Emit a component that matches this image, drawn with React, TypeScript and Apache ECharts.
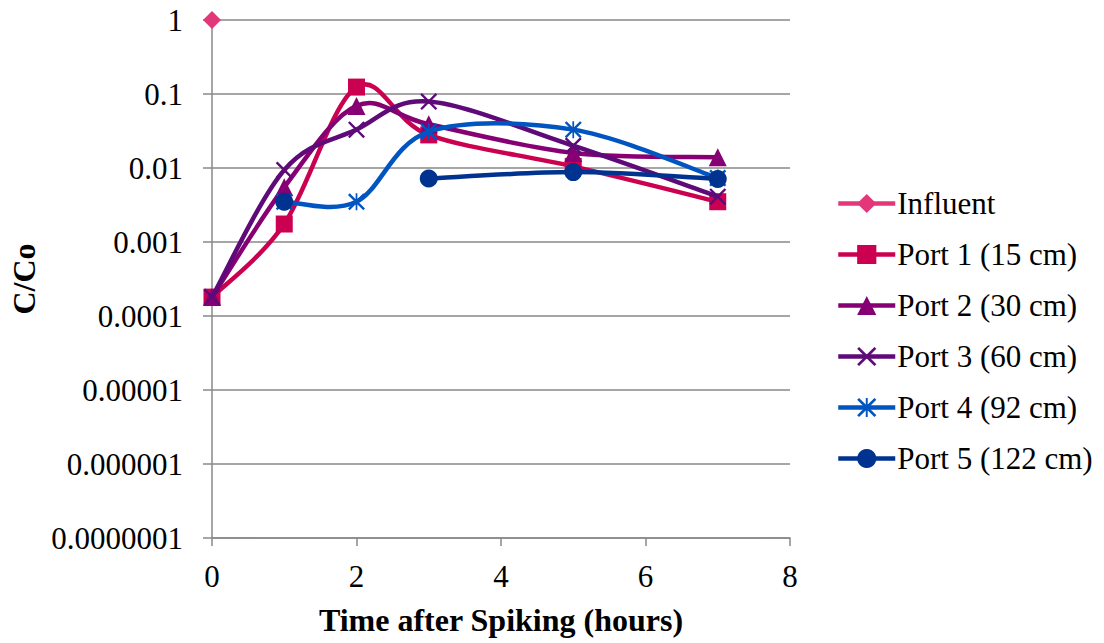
import React, { useEffect, useRef } from "react";
import * as echarts from "echarts";

const xInfluent = [0];
const yInfluent = [1];
const xPort1 = [0, 1, 2, 3, 5, 7];
const yPort1 = [0.00018, 0.00175, 0.124, 0.028, 0.0105, 0.0035];
const xPort2 = [0, 1, 2, 3, 5, 7];
const yPort2 = [0.00018, 0.0055, 0.069, 0.039, 0.016, 0.014];
const xPort3 = [0, 1, 2, 3, 5, 7];
const yPort3 = [0.00018, 0.0094, 0.033, 0.079, 0.02, 0.0041];
const xPort4 = [1, 2, 3, 5, 7];
const yPort4 = [0.0035, 0.0035, 0.031, 0.033, 0.0073];
const xPort5 = [1, 2, 3, 5, 7];
const yPort5 = [0.0035, null, 0.0072, 0.0088, 0.0071];

const seriesNames = [
  "Influent",
  "Port 1 (15 cm)",
  "Port 2 (30 cm)",
  "Port 3 (60 cm)",
  "Port 4 (92 cm)",
  "Port 5 (122 cm)",
];
const colors = ["#E2387A", "#CC0050", "#860073", "#5E0A78", "#0055C0", "#00338F"];

const X_PATH =
  "path://M0,2 L2,0 L10,8 L18,0 L20,2 L12,10 L20,18 L18,20 L10,12 L2,20 L0,18 L8,10 Z";
const STAR_PATH =
  "path://M0,2 L2,0 L10,8 L18,0 L20,2 L12,10 L20,18 L18,20 L10,12 L2,20 L0,18 L8,10 Z M9,0 L11,0 L11,20 L9,20 Z";

const pairs = (xs: number[], ys: (number | null)[]) =>
  xs.map((x, i) => [x, ys[i] === null ? "-" : ys[i]]);

function smoothPath(pts: (number[] | null)[]): string {
  const runs: number[][][] = [];
  let cur: number[][] = [];
  pts.forEach((p) => {
    if (p) cur.push(p);
    else {
      if (cur.length) runs.push(cur);
      cur = [];
    }
  });
  if (cur.length) runs.push(cur);
  let d = "";
  runs.forEach((run) => {
    if (run.length < 2) return;
    d += `M${run[0][0]},${run[0][1]}`;
    for (let i = 0; i < run.length - 1; i++) {
      const p0 = run[i - 1] || run[i];
      const p1 = run[i];
      const p2 = run[i + 1];
      const p3 = run[i + 2] || run[i + 1];
      const c1x = p1[0] + (p2[0] - p0[0]) / 6;
      const c1y = p1[1] + (p2[1] - p0[1]) / 6;
      const c2x = p2[0] - (p3[0] - p1[0]) / 6;
      const c2y = p2[1] - (p3[1] - p1[1]) / 6;
      d += ` C${c1x},${c1y} ${c2x},${c2y} ${p2[0]},${p2[1]}`;
    }
  });
  return d;
}

export default function App() {
  const ref = useRef<HTMLDivElement>(null);
  useEffect(() => {
    if (!ref.current) return;
    const chart = echarts.init(ref.current, undefined, { renderer: "svg" });
    const font = "Liberation Serif";
    const datasets = [
      { xs: xInfluent, ys: yInfluent as (number | null)[], symbol: "diamond", size: 18 },
      { xs: xPort1, ys: yPort1 as (number | null)[], symbol: "rect", size: 17 },
      { xs: xPort2, ys: yPort2 as (number | null)[], symbol: "triangle", size: 18 },
      { xs: xPort3, ys: yPort3 as (number | null)[], symbol: X_PATH, size: 17 },
      { xs: xPort4, ys: yPort4 as (number | null)[], symbol: STAR_PATH, size: 17 },
      { xs: xPort5, ys: yPort5, symbol: "circle", size: 18 },
    ];
    const series: any[] = [];
    datasets.forEach((d, i) => {
      series.push({
        name: "curve" + i,
        type: "custom",
        coordinateSystem: "cartesian2d",
        data: [[d.xs[0], 0.001]],
        z: 2 + 2 * i,
        silent: true,
        renderItem: (_params: any, api: any) => {
          const pts = d.xs.map((x, k) => (d.ys[k] === null ? null : api.coord([x, d.ys[k]])));
          const pd = smoothPath(pts);
          if (!pd) return null;
          return {
            type: "path",
            shape: { pathData: pd },
            style: { fill: "none", stroke: colors[i], lineWidth: 4.5, lineJoin: "round" },
          };
        },
      });
      series.push({
        name: seriesNames[i],
        type: "line",
        data: pairs(d.xs, d.ys),
        symbol: d.symbol,
        symbolSize: d.size,
        showAllSymbol: true,
        color: colors[i],
        itemStyle: { color: colors[i] },
        lineStyle: { color: colors[i], width: 4, opacity: 0 },
        z: 3 + 2 * i,
      });
    });
    chart.setOption({
      animation: false,
      textStyle: { fontFamily: font },
      grid: { left: 212, right: 314, top: 20, bottom: 105, containLabel: false },
      legend: {
        orient: "vertical",
        left: 836,
        top: 188,
        padding: 0,
        itemWidth: 57,
        itemHeight: 24,
        itemGap: 20,
        lineStyle: { width: 4.5, opacity: 1 },
        textStyle: { fontFamily: font, fontSize: 31, color: "#000", padding: [0, 0, 0, -3] },
        data: seriesNames,
      },
      xAxis: {
        type: "value",
        min: 0,
        max: 8,
        interval: 2,
        name: "Time after Spiking (hours)",
        nameLocation: "middle",
        nameGap: 66,
        nameTextStyle: { fontFamily: font, fontSize: 32, fontWeight: "bold", color: "#000" },
        axisLine: { lineStyle: { color: "#888", width: 1.5 } },
        axisTick: { show: true, length: 8, lineStyle: { color: "#888", width: 1.5 } },
        axisLabel: { fontFamily: font, fontSize: 31, color: "#000", margin: 23 },
        splitLine: { show: false },
      },
      yAxis: {
        type: "log",
        logBase: 10,
        min: 1e-7,
        max: 1,
        name: "C/Co",
        nameLocation: "middle",
        nameGap: 168,
        nameRotate: 90,
        nameTextStyle: { fontFamily: font, fontSize: 32, fontWeight: "bold", color: "#000" },
        axisLine: { show: true, lineStyle: { color: "#888", width: 1.5 } },
        axisTick: { show: true, length: 9, lineStyle: { color: "#888", width: 1.5 } },
        axisLabel: {
          fontFamily: font,
          fontSize: 31,
          color: "#000",
          margin: 29,
          formatter: (v: number) => {
            if (v >= 1) return "1";
            const dgt = Math.round(-Math.log10(v));
            return v.toFixed(dgt);
          },
        },
        splitLine: { show: true, lineStyle: { color: "#888", width: 1.5 } },
      },
      series,
    });
    return () => chart.dispose();
  }, []);
  return <div ref={ref} style={{ width: 1104, height: 643, position: "absolute", left: 0, top: 0 }} />;
}
